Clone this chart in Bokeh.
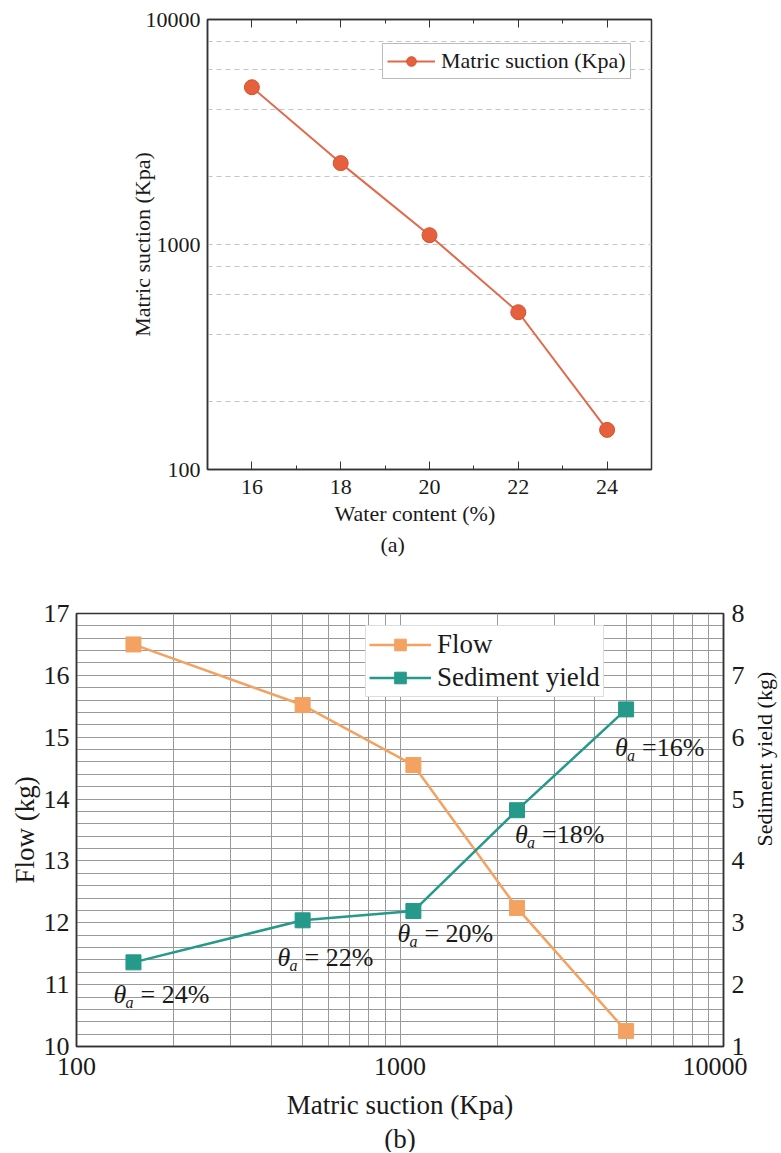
import math
from bokeh.plotting import figure
from bokeh.models import (FixedTicker, LinearAxis, Range1d, Legend, LegendItem,
                          Title, ColumnDataSource, NumeralTickFormatter)
from bokeh.layouts import row
from bokeh.core.properties import value
from bokeh.embed import file_html
from bokeh.resources import INLINE

# ---------------- data ----------------
water_content = [16, 18, 20, 22, 24]            # %
matric_suction = [5000, 2300, 1100, 500, 150]   # Kpa
# chart (b): ordered by increasing suction
suction_b = [150, 500, 1100, 2300, 5000]
flow_kg = [16.5, 15.52, 14.55, 12.24, 10.25]
sediment_kg = [2.36, 3.04, 3.19, 4.82, 6.45]
theta_pct = [24, 22, 20, 18, 16]
theta_rest = ["= 24%", "= 22%", "= 20%", "=18%", "=16%"]
# annotation pixel offsets relative to each sediment point (styling, +y = down)
label_dx = [-20, -25, -16, -2, -11]
label_dy = [32, 37, 22, 24, 38]

x_ticks_a = [16, 18, 20, 22, 24]
x_minor_a = [17, 19, 21, 23]
y_ticks_a = [100, 1000, 10000]
y_grid_a = [200, 400, 600, 800, 1000, 2000, 4000, 6000, 8000]
x_ticks_b = [100, 1000, 10000]
x_minor_b = [200, 300, 400, 500, 600, 700, 800, 900,
             2000, 3000, 4000, 5000, 6000, 7000, 8000, 9000]
flow_ticks = [10, 11, 12, 13, 14, 15, 16, 17]
sed_ticks = [1, 2, 3, 4, 5, 6, 7, 8]

FONT = "Liberation Serif"
TXT = "#1a1a1a"
DARK = "#333333"

# ---------------- chart (a) ----------------
p1 = figure(width=781, height=568, x_range=Range1d(15, 25), y_range=Range1d(100, 10000),
            y_axis_type="log", output_backend="svg", toolbar_location=None,
            min_border_left=207, min_border_right=130, min_border_top=19, min_border_bottom=99)
p1.outline_line_color = DARK
p1.outline_line_width = 1.5

p1.xaxis.ticker = FixedTicker(ticks=x_ticks_a, minor_ticks=x_minor_a)
p1.yaxis.ticker = FixedTicker(ticks=y_ticks_a, minor_ticks=[])
p1.yaxis.formatter = NumeralTickFormatter(format="0")
for ax in (p1.xaxis[0], p1.yaxis[0]):
    ax.axis_line_color = DARK
    ax.axis_line_width = 1.5
    ax.major_tick_in = 8
    ax.major_tick_out = 0
    ax.minor_tick_in = 4
    ax.minor_tick_out = 0
    ax.major_tick_line_color = DARK
    ax.minor_tick_line_color = DARK
    ax.major_label_text_font = FONT
    ax.major_label_text_font_size = "22px"
    ax.major_label_text_color = TXT
    ax.axis_label_text_font = FONT
    ax.axis_label_text_font_size = "22px"
    ax.axis_label_text_font_style = "normal"
    ax.axis_label_text_color = TXT
p1.yaxis.major_tick_in = 0
p1.xaxis.major_label_standoff = 10
p1.yaxis.major_label_standoff = 7
p1.yaxis.axis_label = "Matric suction (Kpa)"
p1.yaxis.axis_label_standoff = -12

top_axis = LinearAxis(ticker=FixedTicker(ticks=x_ticks_a, minor_ticks=x_minor_a),
                      major_label_text_font_size="1px", major_label_text_color=None,
                      major_label_standoff=0,
                      major_tick_in=8, major_tick_out=0, minor_tick_in=4, minor_tick_out=0,
                      axis_line_color=DARK, axis_line_width=1.5,
                      major_tick_line_color=DARK, minor_tick_line_color=DARK)
p1.add_layout(top_axis, "above")

p1.xgrid.visible = False
p1.ygrid.ticker = FixedTicker(ticks=y_grid_a, minor_ticks=[])
p1.ygrid.grid_line_color = "#c4c4c4"
p1.ygrid.grid_line_dash = "5 4"
p1.ygrid.grid_line_width = 1

src_a = ColumnDataSource(dict(x=water_content, y=matric_suction))
l1 = p1.line("x", "y", source=src_a, line_color="#E3684B", line_width=2)
s1 = p1.scatter("x", "y", source=src_a, size=15, marker="circle",
                fill_color="#E5603C", line_color="#D5532F", line_width=1)

leg1 = Legend(items=[LegendItem(label="Matric suction (Kpa)", renderers=[l1, s1])],
              location=(175, 390), label_text_font=FONT, label_text_font_size="22px",
              label_text_color=TXT, border_line_color="#777777", border_line_width=1,
              glyph_width=48, glyph_height=24, label_height=24, label_standoff=6,
              padding=4, margin=0, spacing=0, background_fill_alpha=1)
p1.add_layout(leg1)

# x title and panel letter, left-anchored like the reference
p1.add_layout(Title(text="Water content (%)", align="left", offset=127, text_font=FONT,
                    text_font_size="22px", text_font_style="normal", text_color=TXT,
                    standoff=4), "below")
p1.add_layout(Title(text="(a)", align="left", offset=173, text_font=FONT, text_font_size="22px",
                    text_font_style="normal", text_color=TXT, standoff=4), "below")

# ---------------- chart (b) ----------------
SIDE_W = 34
p2 = figure(width=781 - SIDE_W, height=584, x_axis_type="log", x_range=Range1d(100, 10000),
            y_range=Range1d(10, 17), output_backend="svg", toolbar_location=None,
            min_border_left=76, min_border_right=781 - SIDE_W - 725,
            min_border_top=45, min_border_bottom=105)
p2.extra_y_ranges = {"sed": Range1d(1, 8)}
p2.outline_line_color = DARK
p2.outline_line_width = 1.5

flow_minor = [round(10 + 0.2 * i, 1) for i in range(36)]
p2.xaxis.ticker = FixedTicker(ticks=x_ticks_b, minor_ticks=x_minor_b)
p2.xaxis.formatter = NumeralTickFormatter(format="0")
p2.yaxis.ticker = FixedTicker(ticks=flow_ticks, minor_ticks=flow_minor)
right_axis = LinearAxis(y_range_name="sed", ticker=FixedTicker(ticks=sed_ticks, minor_ticks=[]))
p2.add_layout(right_axis, "right")
for ax in (p2.xaxis[0], p2.yaxis[0], right_axis):
    ax.axis_line_color = DARK
    ax.axis_line_width = 1.5
    ax.major_tick_line_color = None
    ax.minor_tick_line_color = None
    ax.major_tick_in = 0
    ax.major_tick_out = 0
    ax.minor_tick_out = 0
    ax.major_label_text_font = FONT
    ax.major_label_text_font_size = "26px"
    ax.major_label_text_color = TXT
    ax.axis_label_text_font = FONT
    ax.axis_label_text_font_size = "27px"
    ax.axis_label_text_font_style = "normal"
    ax.axis_label_text_color = TXT
p2.xaxis.major_label_standoff = 11
p2.yaxis.major_label_standoff = 7
right_axis.major_label_standoff = 8
p2.xaxis.axis_label = "Matric suction (Kpa)"
p2.xaxis.axis_label_standoff = 12
p2.yaxis[0].axis_label = "Flow (kg)"
p2.yaxis[0].axis_label_standoff = 1

for g in (p2.xgrid[0], p2.ygrid[0]):
    g.grid_line_color = "#999999"
    g.grid_line_width = 1
    g.minor_grid_line_color = "#999999"
    g.minor_grid_line_width = 1

src_b = ColumnDataSource(dict(x=suction_b, flow=flow_kg, sed=sediment_kg,
                              rest=theta_rest, dx=label_dx, dy=label_dy,
                              dxa=[d + 12 for d in label_dx], dya=[d + 8 for d in label_dy],
                              dxr=[d + 27 for d in label_dx]))
ORANGE = "#F4A261"
TEAL = "#25998A"
lf = p2.line("x", "flow", source=src_b, line_color=ORANGE, line_width=2.5)
sf = p2.scatter("x", "flow", source=src_b, marker="square", size=15,
                fill_color=ORANGE, line_color=ORANGE)
ls = p2.line("x", "sed", source=src_b, line_color=TEAL, line_width=2.5, y_range_name="sed")
ss = p2.scatter("x", "sed", source=src_b, marker="square", size=15,
                fill_color=TEAL, line_color=TEAL, y_range_name="sed")

p2.text("x", "sed", text=value("θ"), source=src_b, y_range_name="sed",
        x_offset="dx", y_offset="dy", text_font=value(FONT), text_font_style="italic",
        text_font_size="26px", text_color=TXT, text_align="left", text_baseline="middle")
p2.text("x", "sed", text=value("a"), source=src_b, y_range_name="sed",
        x_offset="dxa", y_offset="dya", text_font=value(FONT), text_font_style="italic",
        text_font_size="16px", text_color=TXT, text_align="left", text_baseline="middle")
p2.text("x", "sed", text="rest", source=src_b, y_range_name="sed",
        x_offset="dxr", y_offset="dy", text_font=value(FONT), text_font_style="normal",
        text_font_size="26px", text_color=TXT, text_align="left", text_baseline="middle")

leg2 = Legend(items=[LegendItem(label="Flow", renderers=[lf, sf]),
                     LegendItem(label="Sediment yield", renderers=[ls, ss])],
              location=(289, 349), label_text_font=FONT, label_text_font_size="27px",
              label_text_color=TXT, border_line_color="#bbbbbb", border_line_width=1,
              glyph_width=62, glyph_height=29, label_height=29, label_standoff=6,
              padding=3, margin=0, spacing=2, background_fill_alpha=1)
p2.add_layout(leg2)

p2.add_layout(Title(text="(b)", align="center", text_font=FONT, text_font_size="27px",
                    text_font_style="normal", text_color=TXT, standoff=-2), "below")

# narrow side panel carrying the right-hand title, reading bottom-to-top
side = figure(width=SIDE_W, height=584, output_backend="svg", toolbar_location=None,
              x_range=Range1d(0, 1), y_range=Range1d(0, 1),
              min_border_left=SIDE_W - 1, min_border_right=0,
              min_border_top=45, min_border_bottom=105)
side.outline_line_color = None
side.xaxis.visible = False
side.yaxis.visible = False
side.grid.visible = False
side.add_layout(Title(text="Sediment yield (kg)", align="left", offset=200,
                      vertical_align="middle", standoff=6, text_font=FONT,
                      text_font_size="22px", text_font_style="normal", text_color="#111111"), "left")

open("out.html", "w").write(file_html([p1, row(p2, side)], INLINE))
